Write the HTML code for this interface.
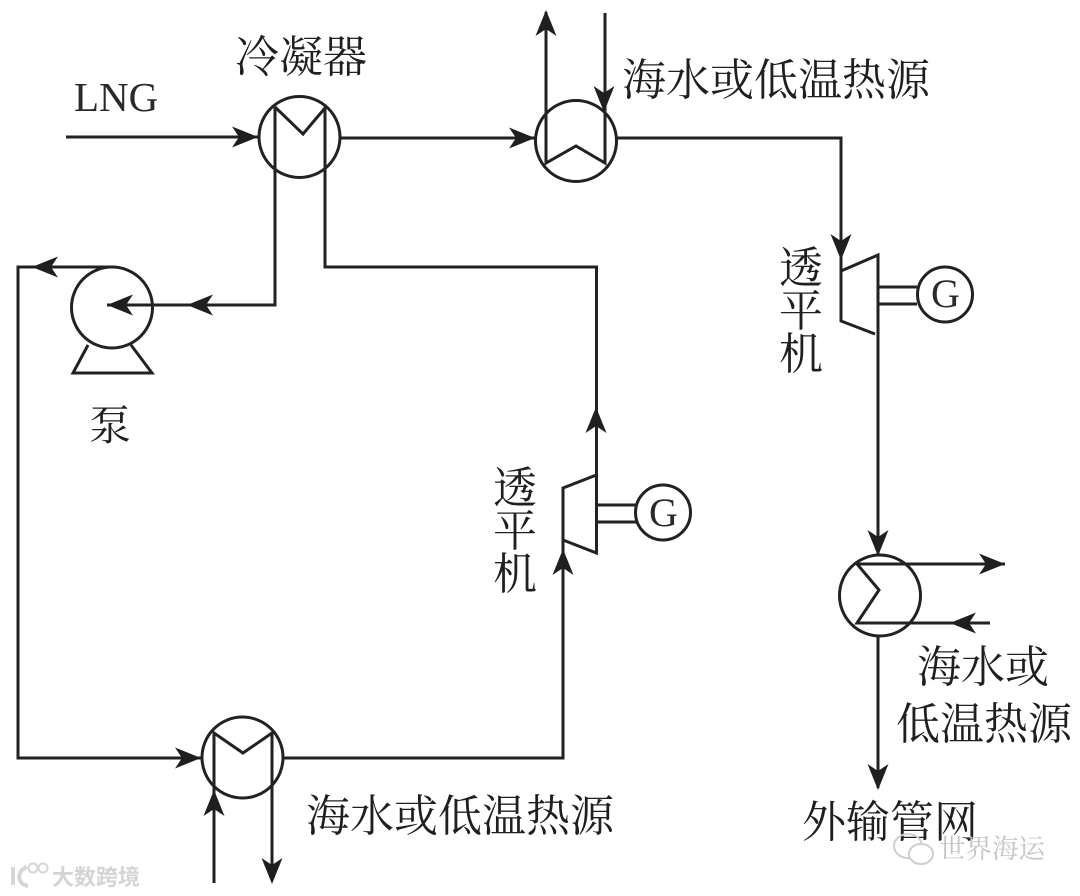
<!DOCTYPE html>
<html lang="zh-CN"><head><meta charset="utf-8">
<style>
html,body{margin:0;padding:0;background:#fff}
svg{display:block}
.t{font-family:"Noto Serif CJK SC","Noto Serif CJK JP",serif;font-size:44px;fill:#1f1f1f;font-weight:400}
.l{font-family:"Liberation Serif",serif;fill:#2a2a2a}
</style></head><body>
<svg width="1080" height="896" viewBox="0 0 1080 896" xmlns="http://www.w3.org/2000/svg">
<defs>
<path id="a" d="M0 0L-26-10.500L-19 0L-26 10.500Z" fill="#1f1f1f"/>
</defs>
<g fill="none" stroke="#222" stroke-width="3">
<circle cx="299.5" cy="137" r="40.5"/>
<circle cx="112" cy="307.500" r="40.500"/>
<circle cx="576" cy="141" r="40.500"/>
<circle cx="880" cy="595.500" r="40.500"/>
<circle cx="242.500" cy="757.500" r="40.500"/>
<circle cx="945" cy="294.500" r="27.500"/>
<circle cx="663" cy="512.500" r="27.500"/>
<path d="M66 137H258"/>
<path d="M341 138H535"/>
<path d="M275 107V305H107"/>
<path d="M275 107L303 134L325 108V267H596.500V475"/>
<path d="M112 267H18V758H201"/>
<path d="M88 345L73 373H152L131 345"/>
<path d="M546 12V163L576 146L605 163V13"/>
<path d="M617 138H841V321L875 334"/>
<path d="M841 271L878 255V555"/>
<path d="M878 287H917M878 304H917"/>
<path d="M1005 564H857L879 590L857 623H990"/>
<path d="M878 637V788"/>
<path d="M214 883V733L243 753L272 733V880"/>
<path d="M284 758H563V488L596.500 475V553L563 540"/>
<path d="M596 505H636M596 522H636"/>
</g>
<use href="#a" transform="translate(258,137)"/>
<use href="#a" transform="translate(535,138)"/>
<use href="#a" transform="translate(201,758)"/>
<use href="#a" transform="translate(1005,564)"/>
<use href="#a" transform="translate(107,305) rotate(180)"/>
<use href="#a" transform="translate(187,305) rotate(180)"/>
<use href="#a" transform="translate(32,267) rotate(180)"/>
<use href="#a" transform="translate(950,623) rotate(180)"/>
<use href="#a" transform="translate(546,10) rotate(-90)"/>
<use href="#a" transform="translate(214,790) rotate(-90)"/>
<use href="#a" transform="translate(563,549) rotate(-90)"/>
<use href="#a" transform="translate(596,407) rotate(-90)"/>
<use href="#a" transform="translate(604,112) rotate(90)"/>
<use href="#a" transform="translate(841,260) rotate(90)"/>
<use href="#a" transform="translate(878,556) rotate(90)"/>
<use href="#a" transform="translate(878,790) rotate(90)"/>
<use href="#a" transform="translate(272,884) rotate(90)"/>
<text class="l" x="74" y="111" font-size="41">LNG</text>
<text class="l" x="931" y="307" font-size="40">G</text>
<text class="l" x="649" y="526" font-size="40">G</text>
<text class="t" x="235" y="72">冷凝器</text>
<text class="t" x="622" y="95">海水或低温热源</text>
<text class="t" x="306" y="831">海水或低温热源</text>
<text class="t" x="917" y="682">海水或</text>
<text class="t" x="896" y="739">低温热源</text>
<text class="t" x="802" y="837">外输管网</text>
<text class="t" x="779" y="283">透</text>
<text class="t" x="779" y="326">平</text>
<text class="t" x="779" y="369">机</text>
<text class="t" x="493" y="503">透</text>
<text class="t" x="493" y="546">平</text>
<text class="t" x="493" y="589">机</text>
<text class="t" x="89" y="440" style="font-size:42px">泵</text>
<text x="939" y="858" font-family="'Noto Serif CJK SC',serif" font-size="26.500" fill="#c4c4c4">世界海运</text>
<g fill="none" stroke="#cfcfcf" stroke-width="2">
<ellipse cx="908" cy="846" rx="14" ry="12"/>
<ellipse cx="921" cy="854" rx="12" ry="10" fill="#fff"/>
</g>
<text x="52" y="885" font-family="'Noto Sans CJK SC',sans-serif" font-weight="700" font-size="22" fill="#d4d4d4">大数跨境</text>
<g fill="none" stroke="#d6d6d6" stroke-width="4">
<path d="M13 867V885M27 867C17 870 16 884 28 886"/>
<circle cx="33" cy="868" r="4.500" stroke-width="2"/>
<circle cx="43" cy="868" r="4.500" stroke-width="2"/>
</g>
</svg>
</body></html>
